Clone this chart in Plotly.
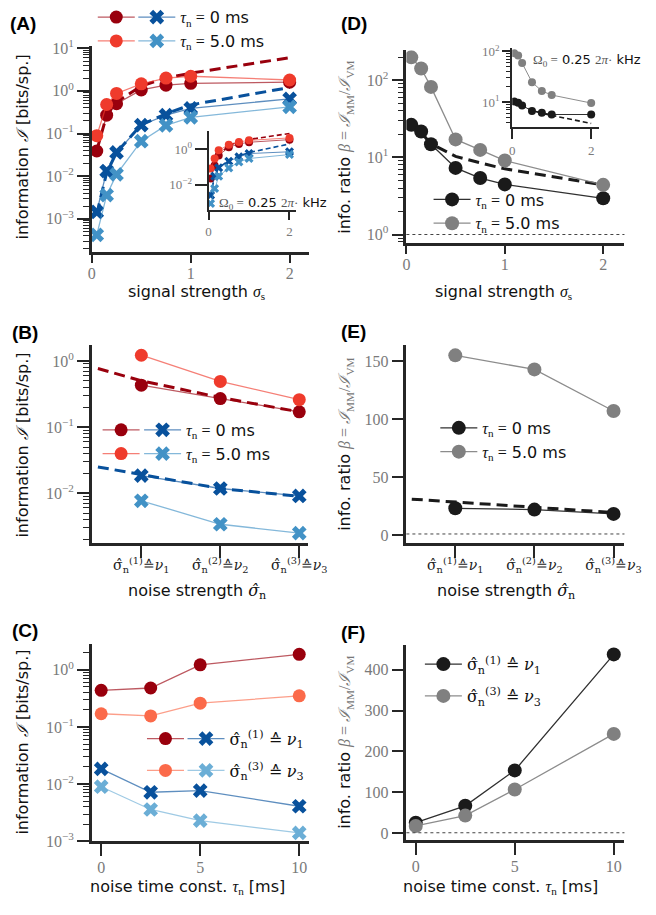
import math
import plotly.graph_objects as go

W, H = 656, 915

# ---------------- data ----------------
sig_s = [0.05, 0.15, 0.25, 0.5, 0.75, 1.0, 2.0]

# (A) information vs. signal strength (Omega0 = 0.05)
A_mm_tau0 = [0.039, 0.27, 0.50, 1.05, 1.36, 1.5, 1.6]
A_mm_tau5 = [0.089, 0.48, 0.87, 1.46, 2.0, 2.2, 1.8]
A_mm_theory = [0.04, 0.27, 0.55, 1.3, 2.0, 2.6, 6.0]
A_vm_tau0 = [0.00145, 0.0132, 0.036, 0.157, 0.27, 0.39, 0.65]
A_vm_tau5 = [0.00042, 0.0036, 0.011, 0.066, 0.155, 0.24, 0.42]
A_vm_theory = [0.0013, 0.012, 0.036, 0.16, 0.29, 0.47, 1.2]

# (A) inset, Omega0 = 0.25
Ai_mm_tau0 = [0.022, 0.12, 0.45, 1.3, 2.0, 2.5, 3.5]
Ai_mm_tau5 = [0.08, 0.30, 0.87, 1.8, 2.6, 3.2, 4.4]
Ai_mm_theory = [0.022, 0.12, 0.5, 1.6, 2.7, 3.6, 7.8]
Ai_vm_tau0 = [0.0025, 0.03, 0.09, 0.21, 0.37, 0.57, 0.72]
Ai_vm_tau5 = [0.00085, 0.006, 0.03, 0.087, 0.19, 0.3, 0.5]
Ai_vm_theory = [0.0025, 0.03, 0.09, 0.23, 0.42, 0.65, 2.0]

# (D) information ratio vs. signal strength
D_tau0 = [26.4, 21.7, 14.8, 7.3, 5.4, 4.46, 2.95]
D_tau5 = [198, 142, 82, 17.1, 12.5, 9.1, 4.4]
D_theory = [26, 21, 15, 10.3, 8.5, 7.1, 4.4]
Di_tau0 = [10.3, 9.7, 8.6, 6.7, 6.2, 5.7, 5.7]
Di_tau5 = [92, 83, 59, 24.7, 16.6, 13.8, 9.6]
Di_theory = [10.3, 9.7, 8.6, 6.9, 6.0, 5.5, 3.8]

# (B)/(E) noise strength levels
noise_lvl = [1, 2, 3]
noise_lvl_theory = [0.45, 1, 2, 3]
noise_labels = [
    "σ\u0302<sub>n</sub><sup>(1)</sup>\u2259<i>ν</i><sub>1</sub>",
    "σ\u0302<sub>n</sub><sup>(2)</sup>\u2259<i>ν</i><sub>2</sub>",
    "σ\u0302<sub>n</sub><sup>(3)</sup>\u2259<i>ν</i><sub>3</sub>",
]
B_mm_tau0 = [0.43, 0.27, 0.17]
B_mm_tau5 = [1.22, 0.49, 0.26]
B_mm_theory = [0.77, 0.5, 0.28, 0.17]
B_vm_tau0 = [0.0185, 0.0118, 0.0091]
B_vm_tau5 = [0.0077, 0.0034, 0.0025]
B_vm_theory = [0.025, 0.019, 0.0118, 0.009]

E_tau0 = [23.1, 22.0, 18.3]
E_tau5 = [154.8, 142.7, 106.9]
E_theory = [31, 28.7, 24, 19.5]

# (C)/(F) noise time constant
tau_n = [0, 2.5, 5, 10]
C_mm_nu1 = [0.436, 0.48, 1.22, 1.86]
C_mm_nu3 = [0.17, 0.156, 0.26, 0.35]
C_vm_nu1 = [0.0185, 0.0072, 0.0077, 0.0041]
C_vm_nu3 = [0.0090, 0.0036, 0.0023, 0.0014]

F_nu1 = [25.7, 67, 153.6, 437.6]
F_nu3 = [17.7, 43, 107, 243]

# ---------------- style ----------------
DRED, LRED, SALMON = "#99000d", "#ef3b2c", "#fb6a4a"
DBLUE, LBLUE, SKY = "#08519c", "#4292c6", "#6baed6"
BLACK, GREY = "#1a1a1a", "#808080"
SPINE, TICKGREY = "#262626", "#7a7a7a"
SANS = "DejaVu Sans"
SERIF = "Liberation Serif"
SERIF2 = "DejaVu Serif"


def rgba(h, a):
    h = h.lstrip("#")
    return "rgba(%d,%d,%d,%.2f)" % (int(h[0:2], 16), int(h[2:4], 16), int(h[4:6], 16), a)


def pow10(e):
    return "10<sup>%s%d</sup>" % ("\u2212" if e < 0 else "", abs(e))


def log_minor(lo, hi):
    vals = []
    for d in range(math.floor(lo) - 1, math.ceil(hi) + 1):
        for k in range(2, 10):
            v = k * 10.0 ** d
            if lo <= math.log10(v) <= hi:
                vals.append(v)
    return vals


def mathspan(s, color=None, family=SERIF):
    st = "font-family:%s" % family
    if color:
        st += ";color:%s" % color
    return '<span style="%s">%s</span>' % (st, s)


fig = go.Figure()
layout = dict(
    width=W, height=H, margin=dict(l=0, r=0, t=0, b=0),
    paper_bgcolor="white", plot_bgcolor="rgba(0,0,0,0)",
    showlegend=True, annotations=[], shapes=[],
)


def add_axes(n, xpx, ypx, xr, yr, ylog, xtv, xtt, ytv, ytt,
             xlen=12, ylen=12, fs=16, xcol=TICKGREY, xfam=SERIF, xfs=None,
             xstand=0, minor_y=True, lw=2.5):
    xs = "xaxis" if n == 1 else "xaxis%d" % n
    ys = "yaxis" if n == 1 else "yaxis%d" % n
    common = dict(showline=True, linewidth=lw, linecolor=SPINE, ticks="outside",
                  tickwidth=2, tickcolor=SPINE, showgrid=False, zeroline=False,
                  tickmode="array")
    layout[xs] = dict(common, domain=[xpx[0] / W, xpx[1] / W], range=xr,
                      anchor="y" if n == 1 else "y%d" % n,
                      tickvals=xtv, ticktext=xtt, ticklen=xlen,
                      ticklabelstandoff=xstand,
                      tickfont=dict(family=xfam, size=xfs or fs, color=xcol))
    yd = dict(common, domain=[1 - ypx[1] / H, 1 - ypx[0] / H], range=yr,
              anchor="x" if n == 1 else "x%d" % n,
              tickvals=ytv, ticktext=ytt, ticklen=ylen,
              tickfont=dict(family=SERIF, size=fs, color=TICKGREY))
    if ylog:
        yd["type"] = "log"
        if minor_y:
            yd["minor"] = dict(tickmode="array", tickvals=log_minor(*yr),
                               ticks="outside", ticklen=max(3, ylen // 2),
                               tickwidth=1.2, tickcolor=SPINE, showgrid=False)
    layout[ys] = yd


def refs(n):
    return ("x", "y") if n == 1 else ("x%d" % n, "y%d" % n)


def series(n, x, y, color, symbol="circle", size=13, lw=1.3, name="", legend=None,
           alpha=0.65, group=None):
    xa, ya = refs(n)
    fig.add_trace(go.Scatter(
        x=x, y=y, xaxis=xa, yaxis=ya, mode="lines+markers", name=name,
        line=dict(color=rgba(color, alpha), width=lw),
        marker=dict(symbol=symbol, size=size, color=color, line=dict(width=0)),
        showlegend=legend is not None, legend=legend or "legend",
        legendgroup=group,
    ))


def theory(n, x, y, color, width=3, dash="11px,6px"):
    xa, ya = refs(n)
    fig.add_trace(go.Scatter(x=x, y=y, xaxis=xa, yaxis=ya, mode="lines",
                             line=dict(color=color, width=width, dash=dash),
                             showlegend=False, hoverinfo="skip"))


# ---------------- axes ----------------
# (A)
add_axes(1, (91, 316), (38, 248), [0, 2.195], [-3.78, 1.046], True,
         [0, 1, 2], ["0", "1", "2"], [1e-3, 1e-2, 1e-1, 1, 10],
         [pow10(e) for e in (-3, -2, -1, 0, 1)], xlen=8, xstand=-3)
# (A) inset
add_axes(2, (212, 303), (124, 205), [0, 2.17], [-3.44, 1.06], True,
         [0, 2], ["0", "2"], [1e-2, 1], [pow10(-2), pow10(0)],
         xlen=8, ylen=12, fs=13, minor_y=False, lw=2)
# (D)
add_axes(3, (417, 643), (42, 239), [0, 2.216], [-0.114, 2.39], True,
         [0, 1, 2], ["0", "1", "2"], [1, 10, 100],
         [pow10(e) for e in (0, 1, 2)], xlen=8, xstand=-3)
# (D) inset
add_axes(4, (526.7, 616.7), (40, 120.7), [0, 2.2], [0.503, 2.064], True,
         [0, 2], ["0", "2"], [10, 100], [pow10(1), pow10(2)],
         xlen=10, ylen=8, fs=13, lw=2)
# (B)
add_axes(5, (91, 315), (343, 545), [0.373, 3.11], [-2.756, 0.237], True,
         noise_lvl, noise_labels, [1e-2, 1e-1, 1],
         [pow10(e) for e in (-2, -1, 0)], xcol="#222222", xfam=SERIF2, xfs=14,
         xstand=-5)
# (E)
add_axes(6, (417, 643), (343, 545), [0.382, 3.138], [-7, 163.5], False,
         noise_lvl, noise_labels, [0, 50, 100, 150],
         ["0", "50", "100", "150"], xcol="#222222", xfam=SERIF2, xfs=14,
         xstand=-5)
# (C)
add_axes(7, (91, 316), (648, 849), [-0.473, 10.49], [-3.0, 0.446], True,
         [0, 5, 10], ["0", "5", "10"], [1e-3, 1e-2, 1e-1, 1],
         [pow10(e) for e in (-3, -2, -1, 0)], xstand=-2)
# (F)
add_axes(8, (417, 643), (649, 848), [-0.473, 10.54], [-17.5, 460], False,
         [0, 5, 10], ["0", "5", "10"], [0, 100, 200, 300, 400],
         ["0", "100", "200", "300", "400"], xstand=-2)

# ---------------- traces ----------------
TAU0 = mathspan("<i>τ</i><sub>n</sub> =") + " 0 ms"
TAU5 = mathspan("<i>τ</i><sub>n</sub> =") + " 5.0 ms"
NU1 = mathspan("σ\u0302<sub>n</sub><sup>(1)</sup> \u2259 <i>ν</i><sub>1</sub>", family=SERIF2)
NU3 = mathspan("σ\u0302<sub>n</sub><sup>(3)</sup> \u2259 <i>ν</i><sub>3</sub>", family=SERIF2)

# (A)
theory(1, sig_s, A_mm_theory, DRED)
theory(1, sig_s, A_vm_theory, DBLUE)
series(1, sig_s, A_mm_tau0, DRED, legend="legend")
series(1, sig_s, A_mm_tau5, LRED, legend="legend")
series(1, sig_s, A_vm_tau0, DBLUE, "x", legend="legend2", name=TAU0)
series(1, sig_s, A_vm_tau5, LBLUE, "x", legend="legend2", name=TAU5)
# (A) inset
theory(2, sig_s, Ai_mm_theory, DRED, width=1.6, dash="5px,3px")
theory(2, sig_s, Ai_vm_theory, DBLUE, width=1.6, dash="5px,3px")
series(2, sig_s, Ai_mm_tau0, DRED, size=8, lw=1)
series(2, sig_s, Ai_mm_tau5, LRED, size=8, lw=1)
series(2, sig_s, Ai_vm_tau0, DBLUE, "x", size=8, lw=1)
series(2, sig_s, Ai_vm_tau5, LBLUE, "x", size=8, lw=1)

# (D)
theory(3, sig_s, D_theory, BLACK)
series(3, sig_s, D_tau0, BLACK, size=14, legend="legend3", name=TAU0, alpha=0.9)
series(3, sig_s, D_tau5, GREY, size=14, legend="legend3", name=TAU5, alpha=0.9)
# (D) inset
theory(4, sig_s, Di_theory, BLACK, width=1.6, dash="5px,3px")
series(4, sig_s, Di_tau0, BLACK, size=8, lw=1, alpha=0.9)
series(4, sig_s, Di_tau5, GREY, size=8, lw=1, alpha=0.9)

# (B)
theory(5, noise_lvl_theory, B_mm_theory, DRED)
theory(5, noise_lvl_theory, B_vm_theory, DBLUE)
series(5, noise_lvl, B_mm_tau0, DRED, legend="legend4")
series(5, noise_lvl, B_mm_tau5, LRED, legend="legend4")
series(5, noise_lvl, B_vm_tau0, DBLUE, "x", legend="legend5", name=TAU0)
series(5, noise_lvl, B_vm_tau5, LBLUE, "x", legend="legend5", name=TAU5)

# (E)
theory(6, noise_lvl_theory, E_theory, BLACK)
series(6, noise_lvl, E_tau0, BLACK, size=14, legend="legend6", name=TAU0, alpha=0.9)
series(6, noise_lvl, E_tau5, GREY, size=14, legend="legend6", name=TAU5, alpha=0.9)

# (C)
series(7, tau_n, C_mm_nu1, DRED, legend="legend7", group="c1")
series(7, tau_n, C_mm_nu3, SALMON, legend="legend7", group="c3")
series(7, tau_n, C_vm_nu1, DBLUE, "x", legend="legend8", name=NU1, group="c1b")
series(7, tau_n, C_vm_nu3, SKY, "x", legend="legend8", name=NU3, group="c3b")

# (F)
series(8, tau_n, F_nu1, BLACK, size=14, legend="legend9", name=NU1, alpha=0.9, group="f1")
series(8, tau_n, F_nu3, GREY, size=14, legend="legend9", name=NU3, alpha=0.9, group="f3")

# beta = 1 reference lines
for n in (3, 6, 8):
    xa, ya = refs(n)
    layout["shapes"].append(dict(type="line", xref=xa + " domain", yref=ya,
                                 x0=0, x1=1, y0=1, y1=1,
                                 line=dict(color="#444444", width=1, dash="dot")))

# ---------------- legends ----------------
def legend_at(key, left_px, top_px, gap=0):
    layout[key] = dict(x=left_px / W, y=1 - top_px / H, xanchor="left", yanchor="top",
                       bgcolor="rgba(0,0,0,0)", borderwidth=0, itemwidth=37,
                       font=dict(family=SANS, size=16, color="#111111"),
                       tracegroupgap=gap, itemclick=False)


legend_at("legend", 92, -9)
legend_at("legend2", 134, -9)
legend_at("legend3", 440, 177)
legend_at("legend4", 97, 412)
legend_at("legend5", 140, 412)
legend_at("legend6", 447, 410)
legend_at("legend7", 143, 727, gap=8)
legend_at("legend8", 185, 727, gap=8)
legend_at("legend9", 431, 651, gap=8)

# ---------------- text ----------------
def ann(text, xpx, ypx, size=16, xanchor="center", angle=0, family=SANS,
        color="#111111", bold=False):
    if bold:
        text = "<b>%s</b>" % text
    layout["annotations"].append(dict(
        text=text, x=xpx / W, y=1 - ypx / H, xref="paper", yref="paper",
        showarrow=False, xanchor=xanchor, yanchor="middle", textangle=angle,
        font=dict(family=family, size=size, color=color)))


for lab, x, y in (("(A)", 4, 15), ("(D)", 347, 15), ("(B)", 6, 330),
                  ("(E)", 347, 329), ("(C)", 6, 634), ("(F)", 347, 636)):
    ann(lab, x, y, size=19, xanchor="left", family="Liberation Sans", bold=True, color="black")

INFO = "information " + mathspan("<i>ℐ</i>") + " [bits/sp.]"
RATIO = "info. ratio " + mathspan("<i>β</i> = <i>ℐ</i><sub>MM</sub>/<i>ℐ</i><sub>VM</sub>", "#777777")
ann(INFO, 19, 141, angle=-90)
ann(INFO, 19, 445, angle=-90)
ann(INFO, 19, 748, angle=-90)
ann(RATIO, 354, 141, angle=-90)
ann(RATIO, 354, 444, angle=-90)
ann(RATIO, 354, 748, angle=-90)

SIG = "signal strength " + mathspan("<i>σ</i><sub>s</sub>")
NOISE = "noise strength " + mathspan("<i>σ\u0302</i><sub>n</sub>", family=SERIF2)
TCONST = "noise time const. " + mathspan("<i>τ</i><sub>n</sub>") + " [ms]"
ann(SIG, 200, 289)
ann(SIG, 518, 289)
ann(NOISE, 200, 594)
ann(NOISE, 520, 594)
ann(TCONST, 190, 896)
ann(TCONST, 515, 896)

OMEGA = mathspan("Ω<sub>0</sub> =", "#555555") + " 0.25 " + mathspan("2<i>π</i>·", "#555555") + " kHz"
ann(OMEGA, 221, 198, size=13, xanchor="left")
ann(OMEGA, 546, 53, size=13, xanchor="left")

fig.update_layout(**layout)
fig.write_html("out.html")
